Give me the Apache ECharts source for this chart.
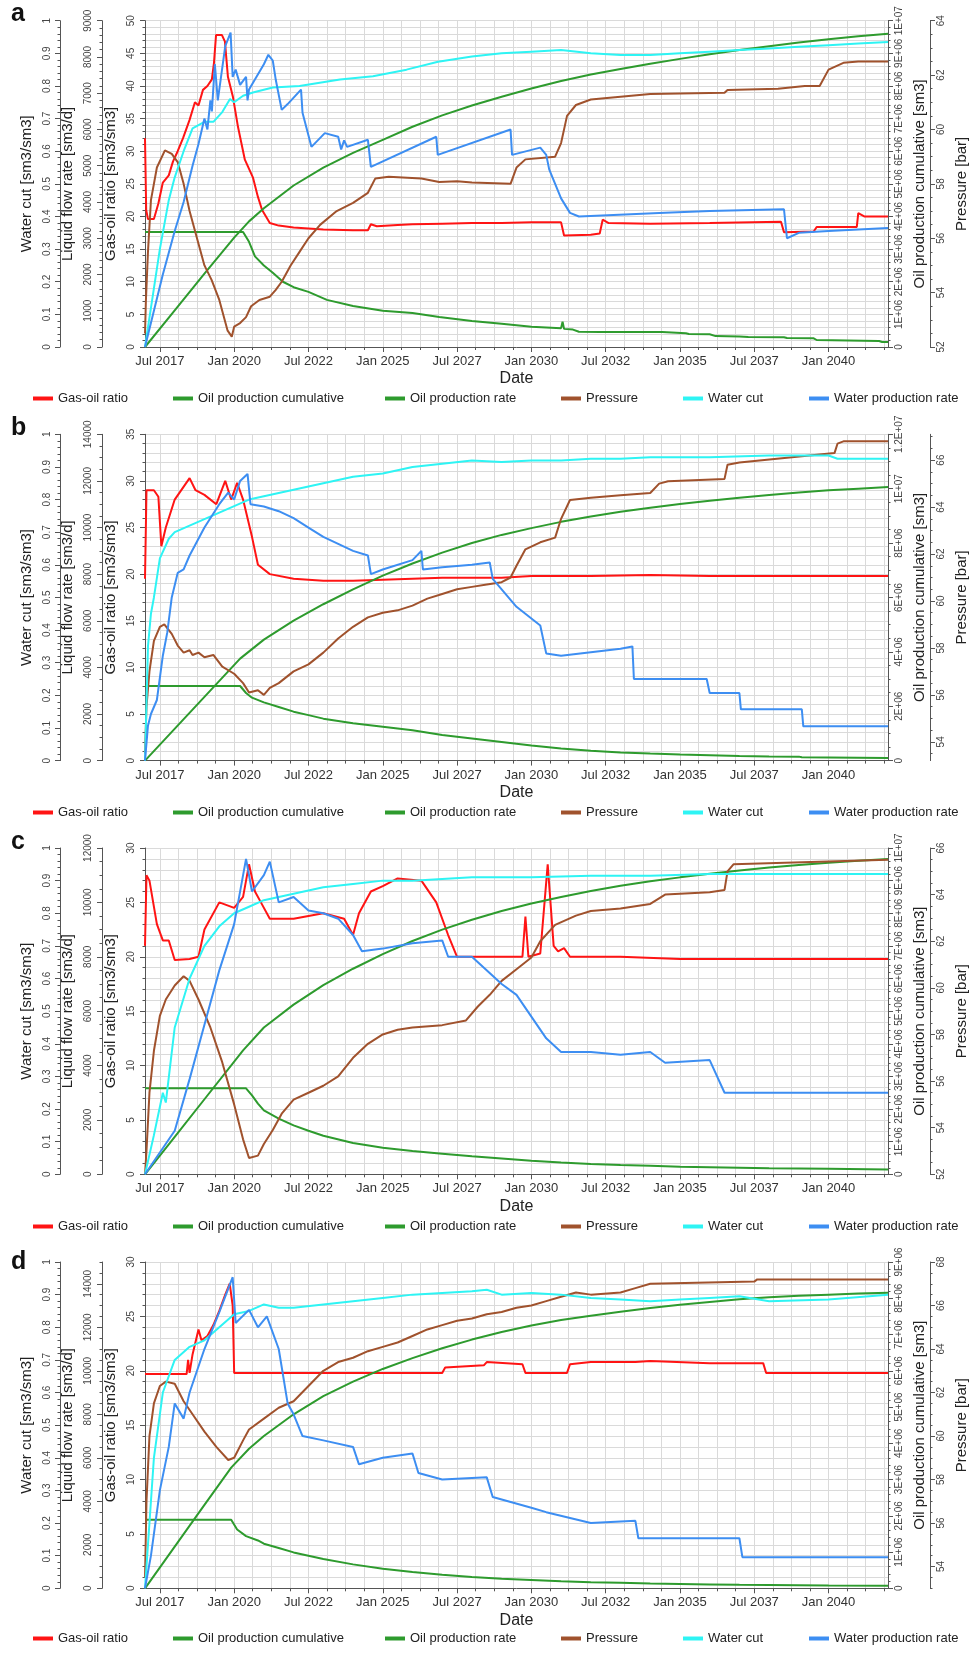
<!DOCTYPE html>
<html>
<head>
<meta charset="utf-8">
<title>Well production forecasts</title>
<script src="https://cdn.jsdelivr.net/npm/echarts@6/dist/echarts.min.js"></script>
<style>
html, body { margin: 0; padding: 0; background: #fff; }
#chart { width: 977px; height: 1659px; }
</style>
</head>
<body>
<div id="chart"></div>
<script>
// ---------- date axis ----------
const DATE_LABEL_VALUES = [2017.5, 2020, 2022.5, 2025, 2027.5, 2030, 2032.5, 2035, 2037.5, 2040];
const DATE_LABEL_TEXT = ['Jul 2017', 'Jan 2020', 'Jul 2022', 'Jan 2025', 'Jul 2027', 'Jan 2030', 'Jul 2032', 'Jan 2035', 'Jul 2037', 'Jan 2040'];
const DATE_MIN = 2017, DATE_MAX = 2042, DATE_MINOR_STEP = 0.625;

// ---------- axis ranges per panel (a, b, c, d) ----------
const PANEL_LETTERS = ['a', 'b', 'c', 'd'];
const WATER_CUT_RANGE = [0, 1], WATER_CUT_STEP = 0.1, WATER_CUT_MINOR = 0.02;
const LIQUID_RANGE = [[0, 9000], [0, 14000], [0, 12000], [0, 15000]];
const LIQUID_STEP = [1000, 2000, 2000, 2000];
const LIQUID_MINOR = [200, 500, 500, 500];
const GOR_RANGE = [[0, 50], [0, 35], [0, 30], [0, 30]];
const GOR_STEP = 5, GOR_MINOR = 1;
const CUM_RANGE = [[0, 1e7], [0, 1.2e7], [0, 1e7], [0, 9e6]];
const CUM_STEP = [1e6, 2e6, 1e6, 1e6];
const CUM_MINOR = [2e5, 5e5, 2e5, 2e5];
const PRESSURE_RANGE = [[52, 64], [53.2, 67.1], [52, 66], [53, 68]];
const PRESSURE_STEP = 2, PRESSURE_MINOR = 0.5;

// ---------- series: [decimal year, value] ----------
// Panel a
const gorA = [[2017.0,32],[2017.03,32],[2017.04,21],[2017.1,19.6],[2017.3,19.6],[2017.45,22],[2017.6,25.2],[2017.8,26.3],[2017.94,28.4],[2018.1,30],[2018.28,32],[2018.5,34.8],[2018.68,37.5],[2018.8,37],[2018.95,39.4],[2019.1,40],[2019.25,41],[2019.32,43.5],[2019.39,47.8],[2019.59,47.8],[2019.69,46.8],[2019.79,41.4],[2019.96,38.3],[2020.13,33.7],[2020.36,28.7],[2020.63,26],[2020.8,23],[2020.94,21],[2021.2,19],[2021.5,18.6],[2022,18.3],[2023,18],[2024,17.9],[2024.5,17.9],[2024.6,18.8],[2024.8,18.5],[2025.5,18.7],[2026,18.8],[2027,18.9],[2028,19],[2029,19],[2030,19.1],[2031.0,19.1],[2031.1,17.1],[2032,17.2],[2032.3,17.4],[2032.4,19.5],[2032.6,19],[2034,18.9],[2036,19],[2038.4,19.2],[2038.5,17.6],[2039.5,17.7],[2039.6,18.4],[2040.95,18.4],[2041.0,20.5],[2041.2,20],[2042,20]];
const cumA = [[2017,0],[2018,1.12e6],[2019,2.25e6],[2020,3.35e6],[2020.5,3.85e6],[2021,4.25e6],[2022,4.95e6],[2023,5.5e6],[2024,5.95e6],[2025,6.35e6],[2026,6.75e6],[2027,7.1e6],[2028,7.4e6],[2029,7.67e6],[2030,7.92e6],[2031,8.15e6],[2032,8.35e6],[2033,8.52e6],[2034,8.68e6],[2035,8.83e6],[2036,8.97e6],[2037,9.1e6],[2038,9.22e6],[2039,9.33e6],[2040,9.43e6],[2041,9.52e6],[2042,9.6e6]];
const oilRateA = [[2017,3175],[2020.3,3175],[2020.5,2900],[2020.7,2500],[2021,2250],[2021.3,2050],[2021.64,1800],[2022,1650],[2022.5,1520],[2023.12,1300],[2024,1130],[2025,1000],[2026,940],[2026.9,830],[2028,720],[2029,640],[2030,560],[2031.0,520],[2031.05,700],[2031.1,500],[2031.4,480],[2031.6,420],[2032.3,414],[2034.4,414],[2034.45,387],[2035.2,380],[2035.3,360],[2036,350],[2036.2,300],[2037,290],[2037.3,276],[2038.5,270],[2038.6,248],[2039.5,240],[2039.6,193],[2041.7,166],[2041.8,140],[2042,138]];
const pressureA = [[2017,52.5],[2017.03,53.7],[2017.1,55.5],[2017.2,57.4],[2017.4,58.6],[2017.67,59.23],[2017.9,59.1],[2018.1,58.8],[2018.3,58.0],[2018.5,57.0],[2018.8,55.8],[2019.0,55.0],[2019.24,54.47],[2019.5,53.73],[2019.78,52.6],[2019.92,52.38],[2020.0,52.75],[2020.2,52.88],[2020.4,53.1],[2020.57,53.5],[2020.85,53.73],[2021.2,53.85],[2021.4,54.1],[2021.6,54.4],[2021.9,55.0],[2022.2,55.5],[2022.5,56.0],[2022.9,56.5],[2023.45,57.0],[2024.0,57.3],[2024.5,57.67],[2024.75,58.2],[2025.2,58.26],[2026.3,58.2],[2026.9,58.07],[2027.5,58.1],[2028,58.05],[2029.3,58.0],[2029.5,58.6],[2029.8,58.9],[2030.8,59.0],[2031.0,59.5],[2031.2,60.5],[2031.5,60.9],[2032,61.1],[2033,61.2],[2034,61.3],[2036.5,61.35],[2036.6,61.45],[2038.3,61.5],[2039.2,61.6],[2039.7,61.6],[2040,62.2],[2040.5,62.45],[2041,62.5],[2042,62.5]];
const waterCutA = [[2017,0],[2017.2,0.12],[2017.5,0.3],[2017.8,0.45],[2018,0.52],[2018.3,0.6],[2018.6,0.67],[2019,0.69],[2019.3,0.69],[2019.6,0.72],[2019.86,0.76],[2020,0.75],[2020.3,0.77],[2020.63,0.78],[2021.3,0.795],[2022.2,0.8],[2023.56,0.82],[2024.67,0.83],[2025.8,0.85],[2026.86,0.874],[2028,0.89],[2029,0.9],[2030,0.905],[2031,0.91],[2032,0.9],[2033,0.895],[2034,0.895],[2035,0.9],[2036,0.905],[2037,0.91],[2038,0.915],[2039,0.92],[2040,0.925],[2041,0.93],[2042,0.935]];
const waterRateA = [[2017,0],[2017.3,1000],[2017.6,2000],[2018.0,3200],[2018.3,4000],[2018.6,5000],[2018.8,5600],[2019.0,6300],[2019.1,6000],[2019.2,6800],[2019.25,6500],[2019.35,7800],[2019.45,6800],[2019.7,8300],[2019.88,8670],[2019.95,7450],[2020.05,7650],[2020.2,7230],[2020.4,7450],[2020.45,6800],[2020.5,7100],[2021.0,7800],[2021.15,8060],[2021.3,7900],[2021.4,7370],[2021.6,6540],[2021.8,6700],[2022.25,7100],[2022.3,6460],[2022.6,5520],[2023.05,5900],[2023.5,5800],[2023.6,5450],[2023.7,5700],[2023.8,5520],[2024.5,5715],[2024.6,4970],[2026.8,5800],[2026.85,5300],[2029.3,6000],[2029.35,5300],[2030.3,5500],[2030.5,5300],[2030.6,4900],[2030.8,4500],[2031.0,4100],[2031.3,3700],[2031.6,3600],[2034.5,3700],[2036,3750],[2038.5,3800],[2038.6,3000],[2039.0,3150],[2040,3200],[2042,3285]];

// Panel b
const gorB = [[2017,19.5],[2017.05,29],[2017.3,29],[2017.45,28.3],[2017.55,23],[2017.7,25],[2018,28],[2018.5,30.3],[2018.7,29],[2019,28.5],[2019.4,27.5],[2019.7,30],[2019.9,28],[2020.1,29.8],[2020.3,28],[2020.6,24],[2020.8,21],[2021.2,20],[2022,19.5],[2023,19.3],[2024,19.3],[2025,19.4],[2026,19.5],[2027,19.6],[2029,19.6],[2030,19.8],[2032,19.8],[2034,19.9],[2036,19.8],[2038,19.8],[2040,19.8],[2042,19.8]];
const cumB = [[2017,0],[2020.2,3.75e6],[2021,4.45e6],[2022,5.15e6],[2023,5.75e6],[2024,6.3e6],[2025,6.8e6],[2026,7.25e6],[2027,7.65e6],[2028,8e6],[2029,8.3e6],[2030,8.55e6],[2031,8.78e6],[2032,8.98e6],[2033,9.15e6],[2034,9.3e6],[2035,9.44e6],[2036,9.56e6],[2037,9.67e6],[2038,9.77e6],[2039,9.86e6],[2040,9.94e6],[2041,1.0e7],[2042,1.006e7]];
const oilRateB = [[2017,3200],[2020.2,3200],[2020.4,2900],[2020.6,2700],[2021,2500],[2021.5,2300],[2022,2100],[2022.5,1950],[2023,1800],[2024,1600],[2025,1450],[2026,1300],[2027,1100],[2028,950],[2029,800],[2030,650],[2031,520],[2032,420],[2033,350],[2034,300],[2035,260],[2036,230],[2037,200],[2038,180],[2039,170],[2039.1,140],[2040,130],[2042,110]];
const pressureB = [[2017,53.5],[2017.05,55.5],[2017.15,57],[2017.3,58.3],[2017.5,58.9],[2017.65,59.0],[2017.9,58.6],[2018.1,58.1],[2018.3,57.8],[2018.5,57.9],[2018.6,57.7],[2018.8,57.8],[2019,57.6],[2019.3,57.7],[2019.6,57.2],[2020,56.9],[2020.3,56.5],[2020.5,56.1],[2020.8,56.2],[2021,56.0],[2021.2,56.3],[2021.5,56.5],[2022,57],[2022.5,57.3],[2023,57.8],[2023.5,58.4],[2024,58.9],[2024.5,59.3],[2025,59.5],[2025.5,59.6],[2026,59.8],[2026.5,60.1],[2027,60.3],[2027.5,60.5],[2028,60.6],[2028.5,60.7],[2029,60.8],[2029.3,61.0],[2029.5,61.5],[2029.8,62.2],[2030.3,62.5],[2030.8,62.7],[2031.0,63.5],[2031.3,64.3],[2032,64.4],[2033,64.5],[2034,64.6],[2034.3,65.0],[2034.6,65.1],[2036.5,65.2],[2036.6,65.8],[2037,65.9],[2040.2,66.3],[2040.3,66.7],[2040.5,66.8],[2042,66.8]];
const waterCutB = [[2017,0],[2017.1,0.35],[2017.2,0.45],[2017.3,0.5],[2017.5,0.62],[2017.8,0.68],[2018,0.7],[2018.5,0.72],[2019,0.74],[2019.5,0.76],[2020,0.78],[2020.5,0.8],[2021,0.81],[2022,0.83],[2023,0.85],[2024,0.87],[2025,0.88],[2026,0.9],[2027,0.91],[2028,0.92],[2029,0.915],[2030,0.92],[2031,0.92],[2032,0.925],[2033,0.925],[2034,0.93],[2036,0.93],[2038,0.935],[2040,0.935],[2040.3,0.925],[2042,0.925]];
const waterRateB = [[2017,0],[2017.1,1500],[2017.2,2000],[2017.4,2600],[2017.6,4500],[2017.75,5500],[2017.9,7000],[2018.1,8050],[2018.3,8200],[2018.5,8800],[2019,10000],[2019.5,11000],[2019.8,11500],[2020,11200],[2020.2,12000],[2020.45,12300],[2020.55,11000],[2021,10900],[2021.5,10700],[2022,10400],[2022.5,10000],[2023,9600],[2023.5,9300],[2024,9000],[2024.5,8800],[2024.6,8000],[2025,8200],[2026,8600],[2026.3,9000],[2026.35,8200],[2027,8300],[2028,8400],[2028.6,8500],[2028.7,7800],[2029.5,6600],[2030.3,5800],[2030.5,4600],[2031,4500],[2033,4800],[2033.4,4900],[2033.45,3500],[2035.9,3500],[2036,2900],[2037,2900],[2037.05,2200],[2039.1,2200],[2039.15,1470],[2042,1470]];

// Panel c
const gorC = [[2017,21],[2017.05,27.5],[2017.15,27],[2017.4,23],[2017.6,21.5],[2017.8,21.5],[2018,19.7],[2018.5,19.8],[2018.8,20],[2019,22.5],[2019.5,25],[2020,24.5],[2020.3,25.5],[2020.5,28.5],[2020.7,26],[2020.9,25],[2021.2,23.5],[2021.5,23.5],[2022,23.5],[2023,24],[2023.7,23.5],[2024,22],[2024.2,24],[2024.6,26],[2025,26.5],[2025.5,27.2],[2026.3,27],[2026.8,25],[2027.2,22],[2027.5,20],[2028.5,20],[2029.7,20],[2029.8,23.7],[2029.9,20],[2030.3,20.3],[2030.55,28.5],[2030.75,21],[2030.9,20.5],[2031.1,20.8],[2031.3,20],[2033,20],[2035,19.8],[2042,19.8]];
const cumC = [[2017,0],[2018,1.15e6],[2019,2.3e6],[2020.3,3.8e6],[2021,4.5e6],[2022,5.2e6],[2023,5.8e6],[2024,6.3e6],[2025,6.75e6],[2026,7.15e6],[2027,7.5e6],[2028,7.8e6],[2029,8.07e6],[2030,8.3e6],[2031,8.5e6],[2032,8.68e6],[2033,8.84e6],[2034,8.98e6],[2035,9.1e6],[2036,9.21e6],[2037,9.31e6],[2038,9.4e6],[2039,9.48e6],[2040,9.55e6],[2041,9.61e6],[2042,9.66e6]];
const oilRateC = [[2017,3160],[2020.4,3160],[2020.6,2900],[2020.8,2600],[2021,2350],[2021.5,2050],[2022,1800],[2022.5,1600],[2023,1420],[2024,1150],[2025,980],[2026,860],[2027,760],[2028,660],[2029,580],[2030,500],[2031,430],[2032,380],[2033,340],[2034,310],[2035,280],[2036,260],[2037,240],[2038,220],[2040,200],[2042,180]];
const pressureC = [[2017,52],[2017.05,53],[2017.15,55.5],[2017.3,57.3],[2017.5,58.8],[2017.7,59.5],[2018,60.1],[2018.3,60.5],[2018.5,60.3],[2018.8,59.5],[2019.2,58.3],[2019.6,56.8],[2020,55],[2020.3,53.5],[2020.5,52.7],[2020.8,52.8],[2021,53.3],[2021.3,53.9],[2021.6,54.6],[2022,55.2],[2022.5,55.5],[2023,55.8],[2023.5,56.2],[2024,57],[2024.5,57.6],[2025,58],[2025.5,58.2],[2026,58.3],[2027,58.4],[2027.8,58.6],[2028.2,59.2],[2028.6,59.7],[2029,60.3],[2029.5,60.8],[2030,61.3],[2030.3,62],[2030.8,62.7],[2031.5,63.1],[2032,63.3],[2033,63.4],[2034,63.6],[2034.5,64],[2036,64.1],[2036.5,64.2],[2036.6,65],[2036.8,65.3],[2042,65.5]];
const waterCutC = [[2017,0],[2017.3,0.12],[2017.6,0.25],[2017.7,0.22],[2018,0.45],[2018.5,0.6],[2019,0.7],[2019.5,0.76],[2020,0.8],[2020.5,0.82],[2021,0.84],[2022,0.86],[2023,0.88],[2024,0.89],[2025,0.9],[2026,0.9],[2027,0.905],[2028,0.91],[2030,0.91],[2032,0.915],[2034,0.915],[2036,0.92],[2038,0.92],[2042,0.92]];
const waterRateC = [[2017,0],[2017.5,800],[2018,1600],[2018.5,3500],[2019,5500],[2019.5,7500],[2020,9200],[2020.4,11600],[2020.6,10400],[2021,11000],[2021.2,11500],[2021.5,10000],[2022,10200],[2022.5,9700],[2023,9600],[2023.5,9400],[2024,8800],[2024.3,8200],[2025,8300],[2026,8500],[2027,8600],[2027.2,8000],[2028,8000],[2029,7000],[2029.5,6600],[2030,5800],[2030.5,5000],[2031,4500],[2032,4500],[2033,4400],[2034,4500],[2034.5,4100],[2036,4200],[2036.5,3000],[2038,3000],[2040,3000],[2042,3000]];

// Panel d
const gorD = [[2017,19.7],[2018.4,19.7],[2018.45,21],[2018.5,19.8],[2018.6,21.5],[2018.8,23.8],[2018.9,22.8],[2019.1,23.2],[2019.3,24.2],[2019.5,25.5],[2019.7,27],[2019.85,28],[2019.95,26],[2020.0,19.8],[2027,19.8],[2027.1,20.3],[2028.4,20.5],[2028.5,20.8],[2029.7,20.6],[2029.8,19.8],[2031.2,19.8],[2031.3,20.6],[2032,20.8],[2033.5,20.8],[2034,20.9],[2036,20.7],[2037.8,20.7],[2037.9,19.8],[2042,19.8]];
const cumD = [[2017,0],[2018,1.15e6],[2019,2.3e6],[2019.9,3.33e6],[2020.5,3.85e6],[2021,4.2e6],[2022,4.8e6],[2023,5.3e6],[2024,5.7e6],[2025,6.05e6],[2026,6.35e6],[2027,6.62e6],[2028,6.86e6],[2029,7.07e6],[2030,7.25e6],[2031,7.4e6],[2032,7.52e6],[2033,7.63e6],[2034,7.73e6],[2035,7.82e6],[2036,7.9e6],[2037,7.97e6],[2038,8.03e6],[2039,8.07e6],[2040,8.1e6],[2041,8.13e6],[2042,8.15e6]];
const oilRateD = [[2017,3150],[2019.9,3150],[2020.1,2700],[2020.4,2400],[2020.8,2200],[2021,2050],[2021.5,1850],[2022,1650],[2023,1350],[2024,1100],[2025,900],[2026,750],[2027,620],[2028,520],[2029,440],[2030,380],[2031,320],[2032,280],[2033,250],[2034,220],[2035,200],[2036,180],[2037,160],[2038,150],[2040,130],[2042,120]];
const pressureD = [[2017,53.5],[2017.05,57],[2017.15,60],[2017.3,61.5],[2017.5,62.3],[2017.7,62.5],[2018,62.4],[2018.3,61.6],[2018.6,61],[2019,60.2],[2019.4,59.5],[2019.8,58.9],[2020,59],[2020.3,59.8],[2020.5,60.3],[2021,60.8],[2021.5,61.3],[2022,61.6],[2022.5,62.3],[2023,63],[2023.5,63.4],[2024,63.6],[2024.5,63.9],[2025,64.1],[2025.5,64.3],[2026,64.6],[2026.5,64.9],[2027,65.1],[2027.5,65.3],[2028,65.4],[2028.5,65.6],[2029,65.7],[2029.5,65.9],[2030,66],[2030.5,66.2],[2031,66.4],[2031.5,66.6],[2032,66.5],[2033,66.6],[2033.5,66.8],[2034,67],[2037.5,67.1],[2037.6,67.2],[2042,67.2]];
const waterCutD = [[2017,0],[2017.3,0.4],[2017.6,0.6],[2018,0.7],[2018.5,0.74],[2019,0.76],[2019.5,0.8],[2020,0.84],[2020.5,0.85],[2021,0.87],[2021.5,0.86],[2022,0.86],[2023,0.87],[2024,0.88],[2025,0.89],[2026,0.9],[2027,0.905],[2028,0.91],[2028.5,0.915],[2029,0.9],[2030,0.905],[2031,0.9],[2032,0.89],[2033,0.885],[2034,0.88],[2035,0.885],[2036,0.89],[2037,0.895],[2038,0.88],[2040,0.885],[2042,0.9]];
const waterRateD = [[2017,0],[2017.2,1500],[2017.5,4500],[2017.8,6500],[2018,8500],[2018.3,7800],[2018.5,9000],[2019,11000],[2019.5,12700],[2019.95,14300],[2020.05,12200],[2020.5,12800],[2020.8,12000],[2021.1,12500],[2021.5,11000],[2021.8,8500],[2022,8000],[2022.3,7000],[2023,6800],[2024,6500],[2024.2,5700],[2025,6000],[2026,6200],[2026.2,5300],[2027,5000],[2028.5,5100],[2028.7,4200],[2030,3700],[2030.5,3500],[2032,3000],[2033.5,3100],[2033.6,2300],[2036,2300],[2037,2300],[2037.1,1430],[2042,1430]];

const PANEL_SERIES = [
  [gorA, cumA, oilRateA, pressureA, waterCutA, waterRateA],
  [gorB, cumB, oilRateB, pressureB, waterCutB, waterRateB],
  [gorC, cumC, oilRateC, pressureC, waterCutC, waterRateC],
  [gorD, cumD, oilRateD, pressureD, waterCutD, waterRateD]
];
const SERIES_NAMES = ['Gas-oil ratio', 'Oil production cumulative', 'Oil production rate', 'Pressure', 'Water cut', 'Water production rate'];

// ---------- styling / layout ----------
const SERIES_COLORS = ['#ff1414', '#2e9b2e', '#2e9b2e', '#a0522d', '#2ef4f4', '#3d8ef2'];
const SANS = 'Liberation Sans, Arial, sans-serif';
const NARROW = 'Liberation Sans Narrow, Liberation Sans, Arial, sans-serif';
const AXIS_COLOR = '#555';
const GRID_COLOR = '#dadada';
const PANEL_TOPS = [20.7, 434.3, 848, 1262];
const PLOT_H = 326.3, PLOT_LEFT = 145, PLOT_RIGHT = 888;
const LEGEND_X = [33, 173, 385, 561, 683, 809];
const LEGEND_TOPS = [392, 806, 1220, 1632];
const LETTER_TOPS = [2, 416, 830, 1250];

function seq(a, b, step) {
  const out = [];
  const n = Math.floor((b - a) / step + 1e-6);
  for (let i = 0; i <= n; i++) out.push(+(a + i * step).toFixed(6));
  return out;
}
function seqFrom(min, max, step) {
  return seq(Math.ceil(min / step - 1e-6) * step, max, step);
}
function sci(v) {
  if (v === 0) return '0';
  const e = Math.floor(Math.log10(v) + 1e-9);
  const m = +(v / Math.pow(10, e)).toFixed(2);
  return m + 'E+' + (e < 10 ? '0' + e : e);
}
function dateLabel(v) {
  const i = DATE_LABEL_VALUES.findIndex(d => Math.abs(d - v) < 1e-6);
  return i >= 0 ? DATE_LABEL_TEXT[i] : '';
}

function yAxisPair(p, cfg) {
  const common = { type: 'value', gridIndex: p, min: cfg.min, max: cfg.max, position: cfg.pos, offset: cfg.offset };
  const main = Object.assign({}, common, {
    name: cfg.name, nameLocation: 'middle', nameRotate: 90, nameGap: cfg.nameGap,
    nameTextStyle: { fontSize: 15, color: '#222', fontFamily: SANS },
    axisLine: { show: true, onZero: false, lineStyle: { color: AXIS_COLOR, width: 1 } },
    axisTick: { show: true, inside: false, length: 5, customValues: cfg.major, lineStyle: { color: AXIS_COLOR } },
    axisLabel: { show: true, customValues: cfg.major, rotate: 90, margin: cfg.labelMargin, formatter: cfg.fmt, fontSize: 10, fontFamily: NARROW, color: '#444' },
    splitLine: { show: false }
  });
  const minor = Object.assign({}, common, {
    axisLine: { show: false },
    axisTick: { show: true, inside: false, length: 2.5, customValues: cfg.minor, lineStyle: { color: AXIS_COLOR } },
    axisLabel: { show: false },
    splitLine: { show: !!cfg.grid, lineStyle: { color: GRID_COLOR, width: 1 } }
  });
  return [main, minor];
}

const grids = [], xAxes = [], yAxes = [], series = [], legends = [], graphics = [];

for (let p = 0; p < 4; p++) {
  grids.push({ left: PLOT_LEFT, width: PLOT_RIGHT - PLOT_LEFT, top: PANEL_TOPS[p], height: PLOT_H, show: false, containLabel: false, outerBoundsMode: 'none' });

  // date axis: labels + long ticks
  xAxes.push({
    type: 'value', gridIndex: p, min: DATE_MIN, max: DATE_MAX, position: 'bottom',
    name: 'Date', nameLocation: 'middle', nameGap: 24,
    nameTextStyle: { fontSize: 16, color: '#222', fontFamily: SANS },
    axisLine: { show: true, onZero: false, lineStyle: { color: AXIS_COLOR } },
    axisTick: { show: true, length: 5, customValues: DATE_LABEL_VALUES, lineStyle: { color: AXIS_COLOR } },
    axisLabel: { customValues: DATE_LABEL_VALUES, formatter: dateLabel, margin: 8, fontSize: 13, fontFamily: NARROW, color: '#333' },
    splitLine: { show: false }
  });
  // date axis: short ticks + vertical grid lines
  xAxes.push({
    type: 'value', gridIndex: p, min: DATE_MIN, max: DATE_MAX, position: 'bottom',
    axisLine: { show: false, onZero: false },
    axisTick: { show: true, length: 3, customValues: seqFrom(DATE_LABEL_VALUES[0], DATE_MAX, DATE_MINOR_STEP), lineStyle: { color: AXIS_COLOR } },
    axisLabel: { show: false },
    splitLine: { show: true, lineStyle: { color: GRID_COLOR, width: 1 } }
  });

  const liq = LIQUID_RANGE[p], gor = GOR_RANGE[p], cum = CUM_RANGE[p], pr = PRESSURE_RANGE[p];
  const lastLiqLabel = Math.floor(liq[1] / LIQUID_STEP[p]) * LIQUID_STEP[p];
  yAxes.push(...yAxisPair(p, { min: 0, max: 1, pos: 'left', offset: 85, name: 'Water cut [sm3/sm3]', nameGap: 24, labelMargin: 8,
    major: seq(0, 1, WATER_CUT_STEP), minor: seq(0, 1, WATER_CUT_MINOR), fmt: v => String(v) }));
  yAxes.push(...yAxisPair(p, { min: liq[0], max: liq[1], pos: 'left', offset: 43, name: 'Liquid flow rate [sm3/d]', nameGap: 22, labelMargin: 9,
    major: seq(0, lastLiqLabel, LIQUID_STEP[p]), minor: seq(0, liq[1], LIQUID_MINOR[p]), fmt: v => String(v) }));
  yAxes.push(...yAxisPair(p, { min: gor[0], max: gor[1], pos: 'left', offset: 0, name: 'Gas-oil ratio [sm3/sm3]', nameGap: 24, labelMargin: 9,
    major: seq(0, gor[1], GOR_STEP), minor: seq(0, gor[1], GOR_MINOR), fmt: v => String(v), grid: true }));
  yAxes.push(...yAxisPair(p, { min: cum[0], max: cum[1], pos: 'right', offset: 0, name: 'Oil production cumulative [sm3]', nameGap: 24, labelMargin: 6,
    major: seq(0, cum[1], CUM_STEP[p]), minor: seq(0, cum[1], CUM_MINOR[p]), fmt: sci }));
  yAxes.push(...yAxisPair(p, { min: pr[0], max: pr[1], pos: 'right', offset: 42, name: 'Pressure [bar]', nameGap: 24, labelMargin: 6,
    major: seqFrom(pr[0], pr[1], PRESSURE_STEP), minor: seqFrom(pr[0], pr[1], PRESSURE_MINOR), fmt: v => String(v) }));

  const yBase = p * 10;
  const yIndexFor = [yBase + 4, yBase + 6, yBase + 2, yBase + 8, yBase + 0, yBase + 2];
  PANEL_SERIES[p].forEach((data, k) => {
    series.push({
      type: 'line', name: SERIES_NAMES[k], xAxisIndex: p * 2, yAxisIndex: yIndexFor[k],
      data: data, showSymbol: false, symbol: 'none', silent: true, animation: false,
      lineStyle: { width: 2, color: SERIES_COLORS[k] }, itemStyle: { color: SERIES_COLORS[k] }
    });
    legends.push({
      data: [SERIES_NAMES[k]], left: LEGEND_X[k], top: LEGEND_TOPS[p], orient: 'horizontal',
      icon: 'rect', itemWidth: 20, itemHeight: 4, itemGap: 0, selectedMode: false, padding: 0,
      textStyle: { fontSize: 13, color: '#222', fontFamily: SANS }
    });
  });

  graphics.push({ type: 'text', left: 11, top: LETTER_TOPS[p], style: { text: PANEL_LETTERS[p], font: 'bold 25px ' + SANS, fill: '#111' } });
}

const chart = echarts.init(document.getElementById('chart'), null, { renderer: 'canvas' });
chart.setOption({
  animation: false,
  backgroundColor: '#fff',
  grid: grids,
  xAxis: xAxes,
  yAxis: yAxes,
  legend: legends,
  graphic: graphics,
  series: series
});
</script>
</body>
</html>
